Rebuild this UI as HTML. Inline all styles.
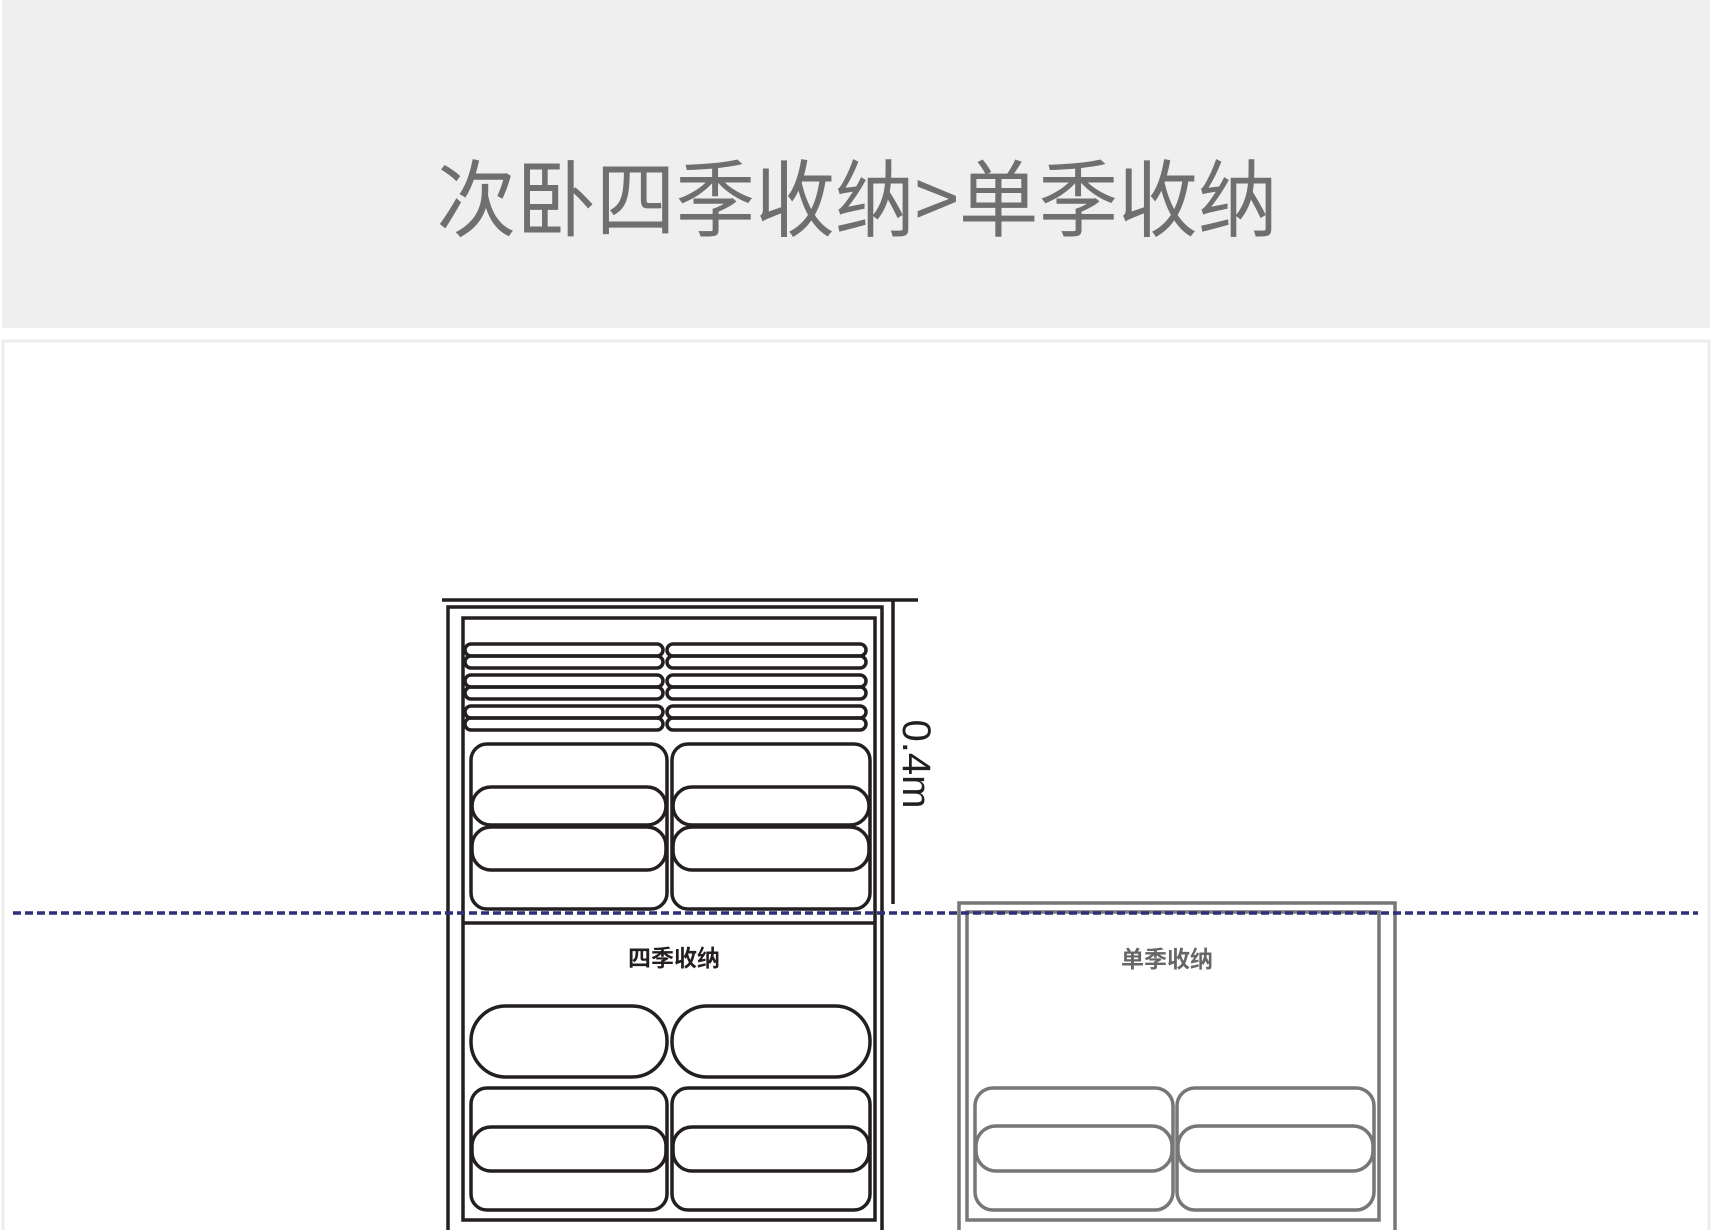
<!DOCTYPE html>
<html><head><meta charset="utf-8"><style>
html,body{margin:0;padding:0;background:#fff;}
body{width:1712px;height:1230px;position:relative;overflow:hidden;}
</style></head><body>
<svg width="1712" height="1230" viewBox="0 0 1712 1230" xmlns="http://www.w3.org/2000/svg" style="position:absolute;left:0;top:0">
<rect x="0" y="0" width="1712" height="1230" fill="#fff"/>
<rect x="2" y="0" width="1708" height="328" fill="#efefef"/>
<rect x="3" y="341" width="1706" height="892" fill="#fff" stroke="#ececec" stroke-width="3"/>
<text x="857" y="230" text-anchor="middle" font-family="'Noto Sans CJK SC',sans-serif" font-size="84" font-weight="400" fill="#6f6f6f" textLength="841" lengthAdjust="spacingAndGlyphs">次卧四季收纳&gt;单季收纳</text>

<g fill="none" stroke="#231f20" stroke-width="3.5">
<line x1="442" y1="600" x2="918" y2="600"/>
<line x1="893" y1="600" x2="893" y2="904"/>
<rect x="448" y="607" width="434" height="630"/>
<rect x="463" y="618" width="412" height="602"/>
<line x1="463" y1="923" x2="875" y2="923"/>
<rect x="465" y="644" width="198" height="12" rx="6"/>
<rect x="465" y="656" width="198" height="12" rx="6"/>
<rect x="667" y="644" width="199" height="12" rx="6"/>
<rect x="667" y="656" width="199" height="12" rx="6"/>
<rect x="465" y="675" width="198" height="12" rx="6"/>
<rect x="465" y="687" width="198" height="12" rx="6"/>
<rect x="667" y="675" width="199" height="12" rx="6"/>
<rect x="667" y="687" width="199" height="12" rx="6"/>
<rect x="465" y="706" width="198" height="12" rx="6"/>
<rect x="465" y="718" width="198" height="12" rx="6"/>
<rect x="667" y="706" width="199" height="12" rx="6"/>
<rect x="667" y="718" width="199" height="12" rx="6"/>
<rect x="471" y="744" width="196" height="165" rx="16"/>
<rect x="472" y="787" width="194" height="38" rx="19"/>
<rect x="472" y="827" width="194" height="43" rx="19"/>
<rect x="672" y="744" width="198" height="165" rx="16"/>
<rect x="673" y="787" width="196" height="38" rx="19"/>
<rect x="673" y="827" width="196" height="43" rx="19"/>
<rect x="471" y="1006" width="196" height="71" rx="35"/>
<rect x="672" y="1006" width="198" height="71" rx="35"/>
<rect x="471" y="1088" width="196" height="122" rx="16"/>
<rect x="472" y="1127" width="194" height="44" rx="19"/>
<rect x="672" y="1088" width="198" height="122" rx="16"/>
<rect x="673" y="1127" width="196" height="44" rx="19"/>
</g>
<text x="674" y="966" text-anchor="middle" font-family="'Noto Sans CJK SC',sans-serif" font-size="23" font-weight="bold" fill="#231f20">四季收纳</text>
<text transform="translate(903,764) rotate(90)" text-anchor="middle" font-family="'Liberation Sans',sans-serif" font-size="40" fill="#231f20">0.4m</text>

<g fill="none" stroke="#777" stroke-width="3.5">
<rect x="959" y="903" width="436" height="334"/>
<rect x="967" y="912" width="412" height="308"/>
<rect x="975" y="1088" width="198" height="122" rx="18"/>
<rect x="976" y="1126" width="196" height="45" rx="20"/>
<rect x="1177" y="1088" width="197" height="122" rx="18"/>
<rect x="1178" y="1126" width="195" height="45" rx="20"/>
</g>
<text x="1167" y="967" text-anchor="middle" font-family="'Noto Sans CJK SC',sans-serif" font-size="23" font-weight="bold" fill="#666">单季收纳</text>

<line x1="13" y1="913" x2="1698" y2="913" stroke="#2e2e7a" stroke-width="3.5" stroke-dasharray="8,4"/>
</svg>
</body></html>
